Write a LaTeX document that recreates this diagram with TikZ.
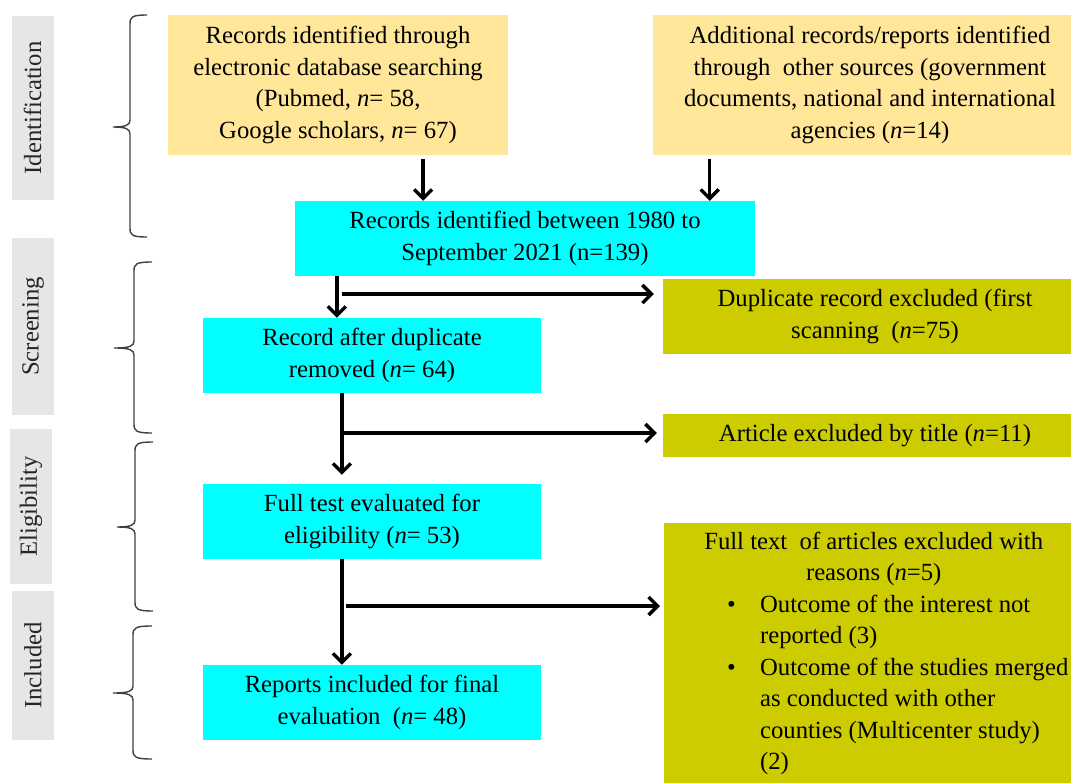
\documentclass[tikz,border=0pt]{standalone}
\usepackage{fontspec}
\setmainfont{Liberation Serif}
\usetikzlibrary{arrows.meta,calc}
\definecolor{cOrange}{HTML}{FFE699}
\definecolor{cCyan}{HTML}{00FFFF}
\definecolor{cOlive}{HTML}{CCCC00}
\definecolor{cGray}{HTML}{E7E6E6}
\begin{document}
\begin{tikzpicture}[x=1pt,y=-1pt,
  box/.style={inner sep=0pt, align=center, font=\fontsize{24.7}{31.5}\selectfont, text=black},
  obox/.style={box, fill=cOrange},
  cbox/.style={box, fill=cCyan},
  ybox/.style={box, fill=cOlive},
  stage/.style={fill=cGray, rotate=90, inner sep=0pt, font=\fontsize{24.7}{28}\selectfont, text=black!85, minimum height=42pt},
  arr/.style={line width=3.4pt, -{Straight Barb[length=9pt,width=18pt]}},
  brc/.style={line width=1.4pt, draw=black!75},
]
\useasboundingbox[fill=white] (0,0) rectangle (1071,782);

% stage labels
\node[stage, minimum width=184pt] (lid) at (32.5,108) {Identification};
\node[stage, minimum width=177pt] (lsc) at (33,326.5) {Screening};
\node[stage, minimum width=155pt] (lel) at (31,506.5) {Eligibility};
\node[stage, minimum width=149pt] (lin) at (33,665.5) {Included};

% braces
\draw[brc] (147,15) .. controls (132,15) and (130,17) .. (130,24) -- (130,120)
  .. controls (130,125) and (126,127) .. (113,127)
  .. controls (126,127) and (130,129) .. (130,134) -- (130,228)
  .. controls (130,235) and (132,237) .. (147,237);
\draw[brc] (152,262) .. controls (136,262) and (134,264) .. (134,271) -- (134,341)
  .. controls (134,346) and (130,348) .. (114,348)
  .. controls (130,348) and (134,350) .. (134,355) -- (134,424)
  .. controls (134,431) and (136,433) .. (152,433);
\draw[brc] (153,442) .. controls (137,442) and (135,444) .. (135,451) -- (135,520)
  .. controls (135,525) and (131,527) .. (117,527)
  .. controls (131,527) and (135,529) .. (135,534) -- (135,602)
  .. controls (135,609) and (137,611) .. (153,611);
\draw[brc] (152,626) .. controls (135,626) and (133,628) .. (133,635) -- (133,686)
  .. controls (133,691) and (129,693) .. (113,693)
  .. controls (129,693) and (133,695) .. (133,700) -- (133,750)
  .. controls (133,757) and (135,759) .. (152,759);

% boxes
\node[obox, minimum width=340pt, minimum height=140pt] (src1) at (338,85)
  {Records identified through\\electronic database searching\\(Pubmed, \textit{n}= 58,\\Google scholars, \textit{n}= 67)};
\node[obox, minimum width=418pt, minimum height=140pt] (src2) at (862,85)
  {\hspace*{16pt}Additional records/reports identified\\\hspace*{16pt}through\ \ other sources (government\\\hspace*{16pt}documents, national and international\\\hspace*{16pt}agencies (\textit{n}=14)};
\node[cbox, minimum width=460pt, minimum height=75pt] (mid) at (525,238.5)
  {Records identified between 1980 to\\September 2021 (n=139)};
\node[ybox, minimum width=408pt, minimum height=75pt] (dup) at (867,316.5)
  {\hspace*{16pt}Duplicate record excluded (first\\\hspace*{16pt}scanning\ \ (\textit{n}=75)};
\node[cbox, minimum width=338pt, minimum height=75pt] (rec) at (372,355.5)
  {Record after duplicate\\removed (\textit{n}= 64)};
\node[ybox, minimum width=408pt, minimum height=43pt] (title) at (867,435.5)
  {\hspace*{16pt}Article excluded by title (\textit{n}=11)};
\node[cbox, minimum width=338pt, minimum height=75pt] (full) at (372,521.5)
  {Full test evaluated for\\eligibility (\textit{n}= 53)};
\node[ybox, anchor=north west, minimum width=407pt, minimum height=259pt, inner ysep=4pt] (excl) at (664,523)
  {\begin{tabular}{@{\hspace{60pt}}p{33pt}@{}l@{}}
   \multicolumn{2}{@{}c@{}}{\hspace*{12pt}Full text\ \ of articles excluded with}\\
   \multicolumn{2}{@{}c@{}}{\hspace*{12pt}reasons (\textit{n}=5)}\\
   \textbullet & Outcome of the interest not\\
    & reported (3)\\
   \textbullet & Outcome of the studies merged\\
    & as conducted with other\\
    & counties (Multicenter study)\\
    & (2)
   \end{tabular}};
\node[cbox, minimum width=338pt, minimum height=75pt] (incl) at (372,702.5)
  {Reports included for final\\evaluation\ \ (\textit{n}= 48)};

% junction coordinates
\coordinate (a1) at ($(src1.south west)!0.75!(src1.south east)$);
\coordinate (a2) at ($(src2.south west)!0.136!(src2.south east)$);
\coordinate (v1) at ($(mid.south west)!0.0913!(mid.south east)$);
\coordinate (h1) at (342,294);
\coordinate (v2) at ($(rec.south west)!0.411!(rec.south east)$);
\coordinate (h2) at (342,433);
\coordinate (v3) at ($(full.south west)!0.411!(full.south east)$);
\coordinate (h3) at (346,606);

% connectors
\draw[arr, shorten <=4pt] (a1) -- (a1 |- mid.north);
\draw[arr, shorten <=4pt] (a2) -- (a2 |- mid.north);
\draw[arr] (v1) -- (v1 |- rec.north);
\draw[arr, shorten >=9pt] (h1) -- (h1 -| dup.west);
\draw[arr, shorten >=9pt] (v2) -- (v2 |- full.north);
\draw[arr, shorten >=6pt] (h2) -- (h2 -| title.west);
\draw[arr] (v3) -- (v3 |- incl.north);
\draw[arr, shorten >=4pt] (h3) -- (h3 -| excl.west);
\end{tikzpicture}
\end{document}
